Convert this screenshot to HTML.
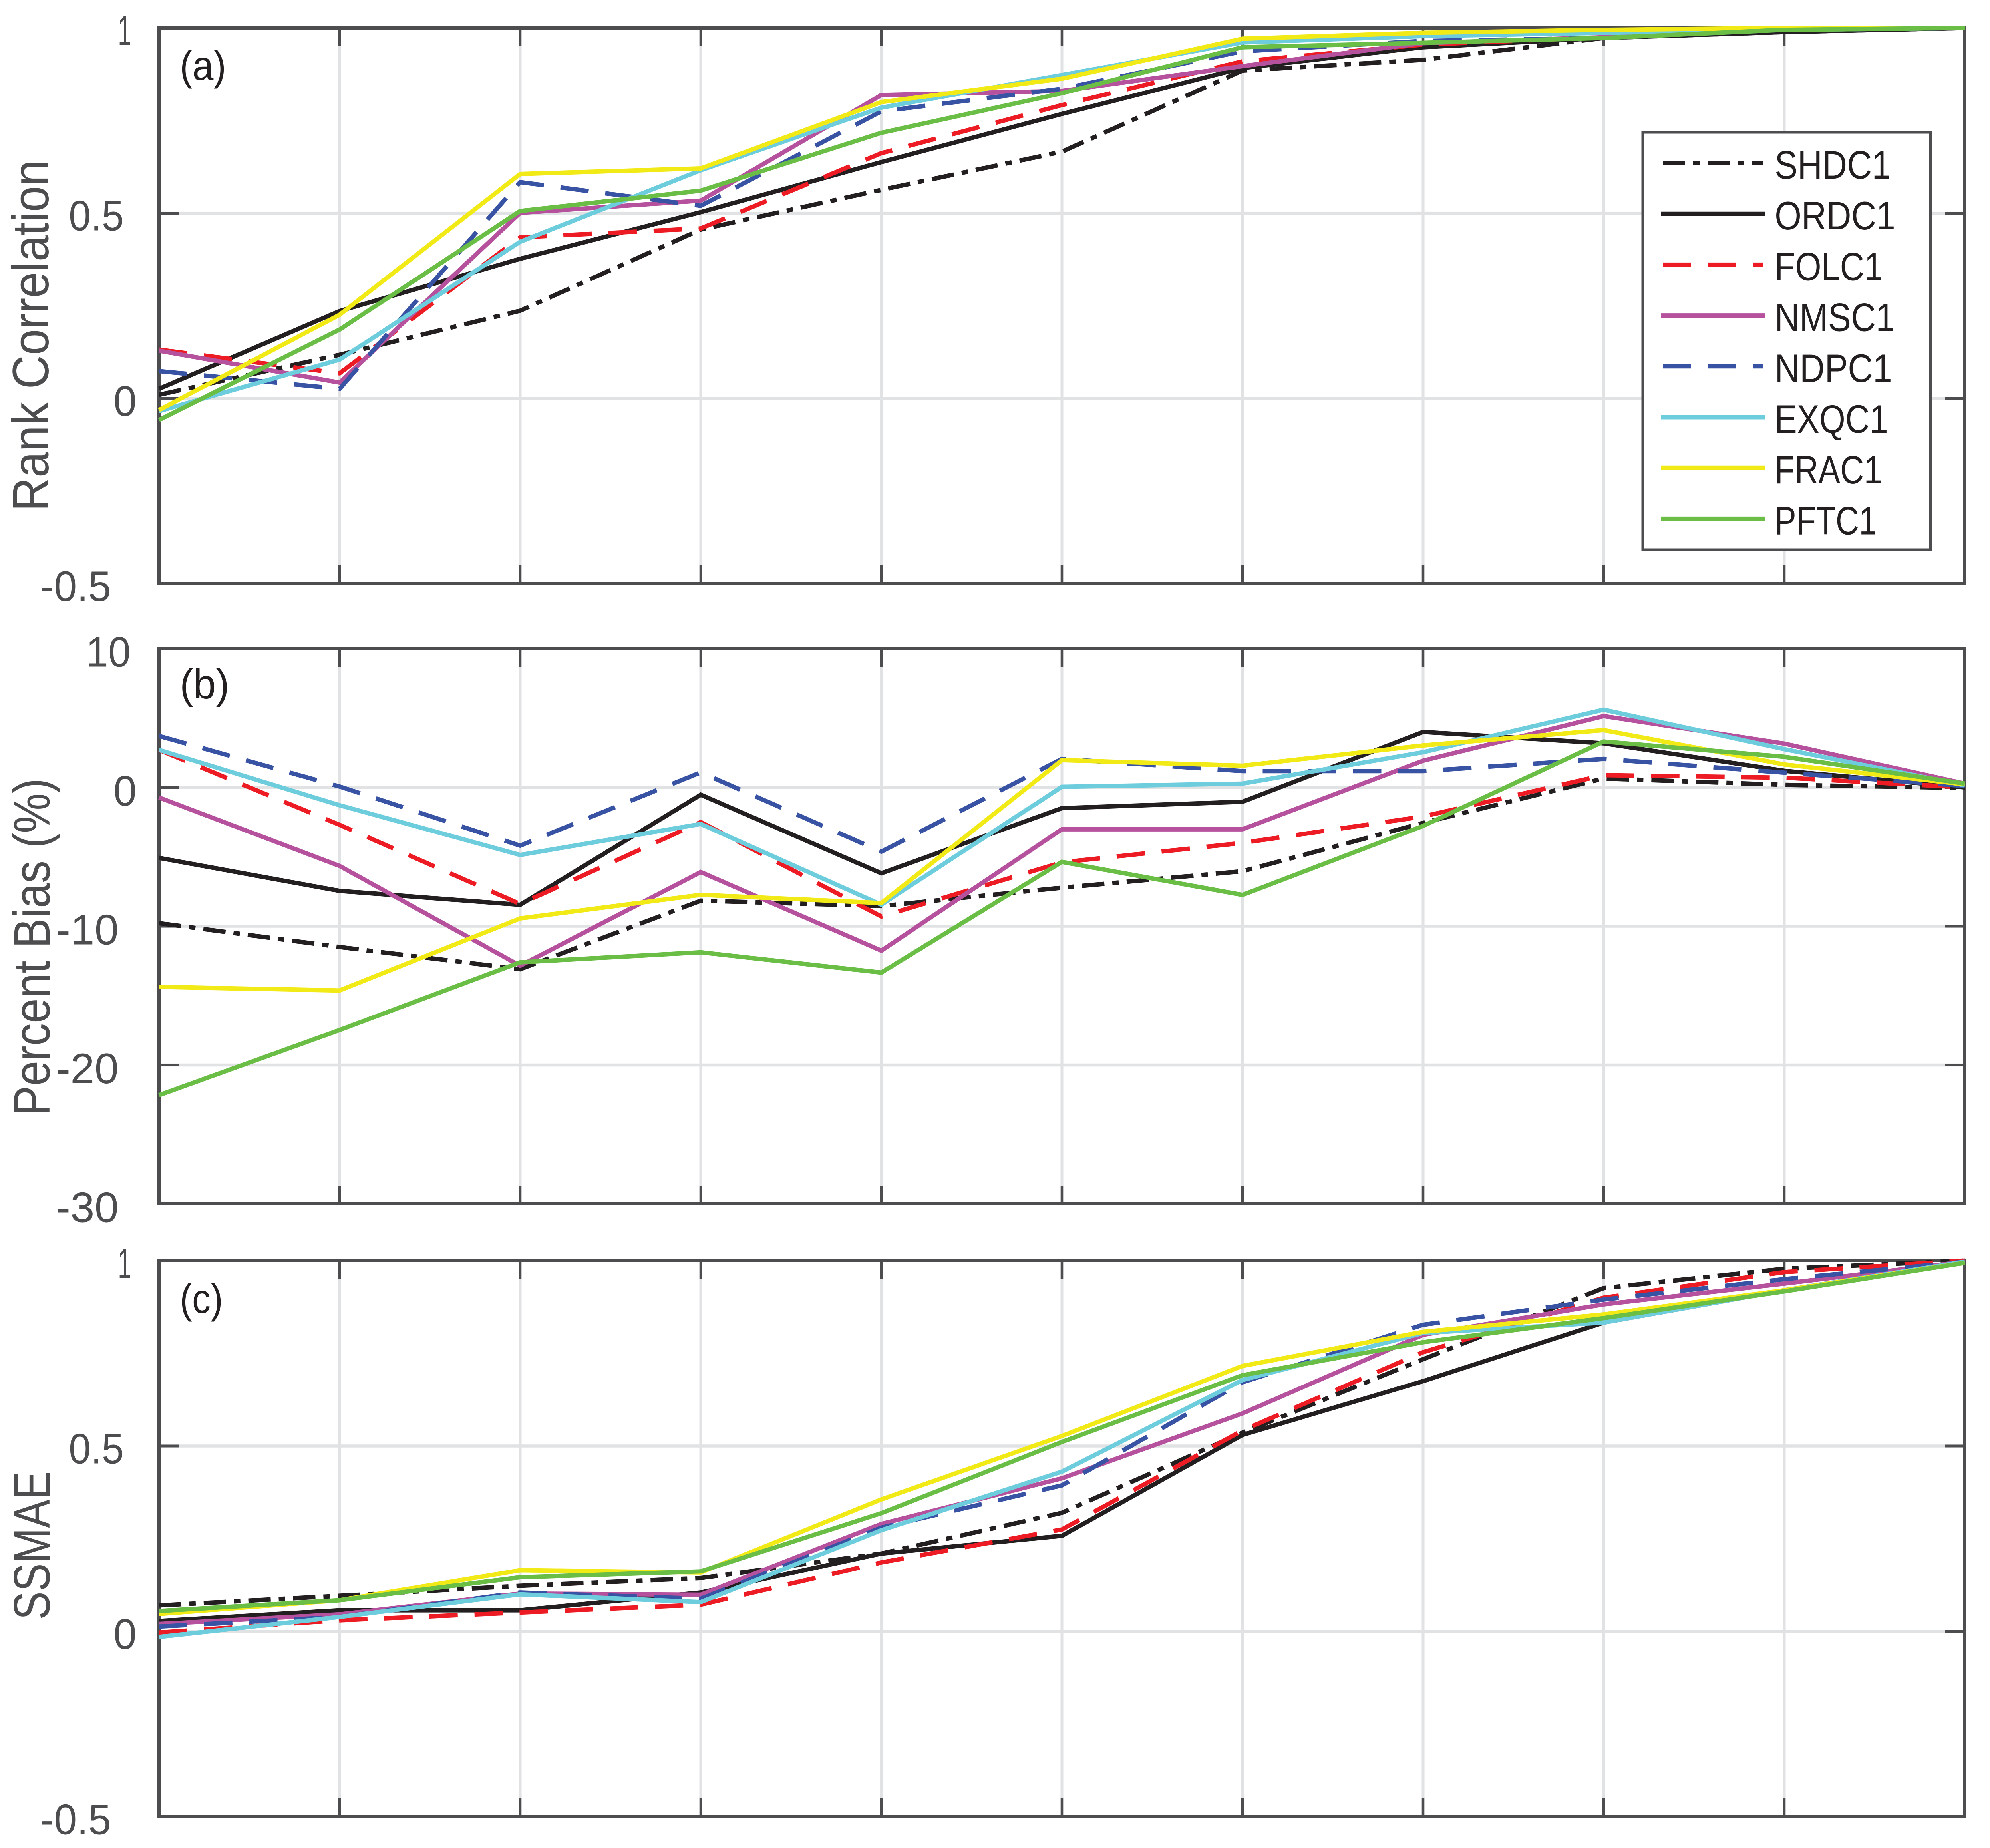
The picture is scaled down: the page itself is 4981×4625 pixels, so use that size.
<!DOCTYPE html>
<html lang="en">
<head>
<meta charset="utf-8">
<title>Rank Correlation, Percent Bias and SSMAE by series</title>
<style>
html,body{margin:0;padding:0;background:#fff;width:4981px;height:4625px;overflow:hidden}
svg{display:block}
text{font-family:"Liberation Sans",sans-serif}
</style>
</head>
<body>
<svg id="chart" xmlns="http://www.w3.org/2000/svg" width="4981" height="4625" viewBox="0 0 4981 4625"></svg>
<script>
// ---- data ----
const seriesNames = ['SHDC1','ORDC1','FOLC1','NMSC1','NDPC1','EXQC1','FRAC1','PFTC1'];
const categories = [0,1,2,3,4,5,6,7,8,9,10];

const rankShd = [0.010,0.118,0.237,0.456,0.563,0.666,0.885,0.914,0.973,0.989,1];
const rankOrd = [0.026,0.236,0.377,0.503,0.638,0.768,0.892,0.948,0.973,0.989,1];
const rankFol = [0.132,0.068,0.435,0.459,0.662,0.792,0.910,0.955,0.975,1.000,1];
const rankNms = [0.129,0.043,0.501,0.534,0.819,0.830,0.897,0.959,0.975,0.995,1];
const rankNdp = [0.074,0.026,0.584,0.520,0.775,0.836,0.937,0.965,0.973,0.995,1];
const rankExq = [-0.034,0.105,0.423,0.616,0.785,0.873,0.961,0.978,0.987,0.995,1];
const rankFra = [-0.031,0.226,0.606,0.621,0.800,0.863,0.971,0.987,0.995,1.000,1];
const rankPft = [-0.058,0.186,0.506,0.561,0.717,0.824,0.948,0.960,0.973,0.995,1];

const biasShd = [-9.78,-11.5,-13.1,-8.16,-8.55,-7.23,-6.04,-2.56,0.64,0.18,-0.04];
const biasOrd = [-5.08,-7.46,-8.46,-0.53,-6.19,-1.5,-1.04,3.99,3.17,1.19,0];
const biasFol = [2.7,-2.7,-8.4,-2.5,-9.3,-5.4,-4.0,-2.1,0.88,0.7,0];
const biasNms = [-0.73,-5.66,-12.85,-6.1,-11.76,-3.02,-3.02,1.92,5.13,3.15,0.27];
const biasNdp = [3.7,0.06,-4.2,1.08,-4.63,2.05,1.17,1.17,2.05,1.06,0.1];
const biasExq = [2.7,-1.29,-4.87,-2.64,-8.45,0.04,0.27,2.53,5.59,2.75,0.15];
const biasFra = [-14.37,-14.63,-9.44,-7.74,-8.33,1.96,1.56,3.02,4.12,1.65,0.22];
const biasPft = [-22.17,-17.48,-12.6,-11.88,-13.34,-5.37,-7.75,-2.78,3.3,2.2,0.27];

const ssmaeShd = [0.070,0.096,0.123,0.144,0.210,0.320,0.536,0.734,0.926,0.978,1.000];
const ssmaeOrd = [0.028,0.057,0.057,0.105,0.210,0.258,0.530,0.675,0.833,0.920,0.997];
const ssmaeFol = [-0.003,0.030,0.051,0.072,0.186,0.275,0.542,0.753,0.900,0.969,1.000];
const ssmaeNms = [0.020,0.046,0.102,0.099,0.290,0.413,0.588,0.800,0.882,0.938,0.997];
const ssmaeNdp = [0.013,0.039,0.105,0.088,0.280,0.394,0.672,0.827,0.895,0.950,0.997];
const ssmaeExq = [-0.015,0.039,0.100,0.079,0.273,0.431,0.678,0.805,0.833,0.920,0.997];
const ssmaeFra = [0.047,0.084,0.165,0.159,0.356,0.527,0.716,0.808,0.855,0.920,0.994];
const ssmaePft = [0.055,0.084,0.146,0.162,0.319,0.511,0.691,0.780,0.845,0.917,0.994];

const rankTicks = [1,0.5,0,-0.5];
const rankTickLabels = ['1','0.5','0','-0.5'];
const biasTicks = [10,0,-10,-20,-30];
const biasTickLabels = ['10','0','-10','-20','-30'];
const ssmaeTicks = [1,0.5,0,-0.5];
const ssmaeTickLabels = ['1','0.5','0','-0.5'];

// ---- drawing ----
const NS = 'http://www.w3.org/2000/svg';
const svg = document.getElementById('chart');
const AXIS = '#4d4d4f', GRID = '#e1e2e4', INK = '#231f20';
const PLOT_L = 398, PLOT_R = 4918;
const colors = {SHDC1:INK,ORDC1:INK,FOLC1:'#ed1c24',NMSC1:'#b5519d',NDPC1:'#3953a4',EXQC1:'#6dcddd',FRAC1:'#f2ea16',PFTC1:'#6abd45'};
const dashes = {SHDC1:'56 20 16 20',FOLC1:'71 42',NDPC1:'71 42'};

function make(tag, attrs, parent){
  const el = document.createElementNS(NS, tag);
  for (const k in attrs) el.setAttribute(k, attrs[k]);
  (parent || svg).appendChild(el);
  return el;
}
function xScale(i){
  return PLOT_L + (PLOT_R - PLOT_L) * (i - categories[0]) / (categories[categories.length-1] - categories[0]);
}
function tickLabelBox(label){
  const right = {'1':329,'0.5':310,'0':342,'-0.5':278,'10':327,'-10':297,'-20':297,'-30':297};
  const width = {'1':34,'0.5':138,'0':58,'-0.5':177,'10':112,'-10':157,'-20':157,'-30':157};
  return {x: right[label] - width[label], w: width[label]};
}

function drawPanel(p){
  const g = make('g', {});
  
  
  const yScale = v => p.top + (p.bottom - p.top) * (p.max - v) / (p.max - p.min);

  // grid
  categories.slice(1, -1).forEach(c => {
    const l = make('line', {x1:xScale(c),x2:xScale(c),y1:p.top,y2:p.bottom,stroke:GRID,'stroke-width':7}, g);
    
    
  });
  p.ticks.forEach(t => {
    if (t === p.max || t === p.min) return;
    const l = make('line', {x1:PLOT_L,x2:PLOT_R,y1:yScale(t),y2:yScale(t),stroke:GRID,'stroke-width':7.5}, g);
    
    
  });

  // ticks
  categories.slice(1, -1).forEach(c => {
    const a = make('line', {x1:xScale(c),x2:xScale(c),y1:p.top,y2:p.top+46,stroke:AXIS,'stroke-width':6.5}, g);
    
    
    const b = make('line', {x1:xScale(c),x2:xScale(c),y1:p.bottom,y2:p.bottom-46,stroke:AXIS,'stroke-width':6.5}, g);
    
    
  });
  p.ticks.forEach(t => {
    if (t === p.max || t === p.min) return;
    const a = make('line', {x1:PLOT_L,x2:PLOT_L+50,y1:yScale(t),y2:yScale(t),stroke:AXIS,'stroke-width':7}, g);
    
    
    const b = make('line', {x1:PLOT_R,x2:PLOT_R-50,y1:yScale(t),y2:yScale(t),stroke:AXIS,'stroke-width':7}, g);
    
    
  });

  // frame
  const frame = make('rect', {x:PLOT_L,y:p.top,width:PLOT_R-PLOT_L,height:p.bottom-p.top,fill:'none',stroke:AXIS,'stroke-width':8}, g);
  
  

  // tick labels
  p.ticks.forEach((t, i) => {
    const label = p.tickLabels[i];
    const box = tickLabelBox(label);
    const tx = make('text', {x:box.x,y:yScale(t)+p.labelDrop,'font-size':107,fill:AXIS,textLength:box.w,lengthAdjust:'spacingAndGlyphs'}, g);
    tx.textContent = label;
    
    
  });

  // y title
  const yt = make('text', {transform:'translate('+p.titleX+' '+p.titleY+') rotate(-90)','text-anchor':'middle','font-size':128,fill:AXIS,textLength:p.titleLen,lengthAdjust:'spacingAndGlyphs'}, g);
  yt.textContent = p.title;
  
  

  // panel letter
  const pl = make('text', {x:450,y:p.letterY,'font-size':104,fill:INK,textLength:p.letterLen,lengthAdjust:'spacingAndGlyphs'}, g);
  pl.textContent = p.letter;
  
  

  // series
  seriesNames.forEach((name, s) => {
    const pts = p.series[s].map((v, i) => xScale(categories[i]).toFixed(1) + ',' + yScale(v).toFixed(1)).join(' ');
    const attrs = {points:pts,fill:'none',stroke:colors[name],'stroke-width':11,'stroke-linejoin':'miter','stroke-miterlimit':10};
    if (dashes[name]) attrs['stroke-dasharray'] = dashes[name];
    const line = make('polyline', attrs, g);
    
    
  });
}

drawPanel({key:'a',letter:'(a)',letterY:200,letterLen:116,top:70,bottom:1461,max:1,min:-0.5,labelDrop:43,
  ticks:rankTicks,tickLabels:rankTickLabels,title:'Rank Correlation',titleX:121,titleY:840,titleLen:880,
  series:[rankShd,rankOrd,rankFol,rankNms,rankNdp,rankExq,rankFra,rankPft]});
drawPanel({key:'b',letter:'(b)',letterY:1748,letterLen:124,top:1623,bottom:3013,max:10,min:-30,labelDrop:45.5,
  ticks:biasTicks,tickLabels:biasTickLabels,title:'Percent Bias (%)',titleX:124,titleY:2370,titleLen:845,
  series:[biasShd,biasOrd,biasFol,biasNms,biasNdp,biasExq,biasFra,biasPft]});
drawPanel({key:'c',letter:'(c)',letterY:3286,letterLen:108,top:3155,bottom:4547,max:1,min:-0.5,labelDrop:43.5,
  ticks:ssmaeTicks,tickLabels:ssmaeTickLabels,title:'SSMAE',titleX:124,titleY:3868,titleLen:372,
  series:[ssmaeShd,ssmaeOrd,ssmaeFol,ssmaeNms,ssmaeNdp,ssmaeExq,ssmaeFra,ssmaePft]});

// legend
function legendTextWidth(name){
  return {SHDC1:291,ORDC1:302,FOLC1:271,NMSC1:301,NDPC1:294,EXQC1:284,FRAC1:269,PFTC1:256}[name];
}
const legend = make('g', {});


const legendBox = make('rect', {x:4112,y:331,width:720,height:1045,fill:'#fff',stroke:AXIS,'stroke-width':7}, legend);


seriesNames.forEach((name, i) => {
  const y = 408 + i * 127.2;
  const attrs = dashes[name]
    ? {x1:4162,x2:4413,y1:y,y2:y,stroke:colors[name],'stroke-width':11,'stroke-dasharray':dashes[name]}
    : {x1:4157,x2:4418,y1:y,y2:y,stroke:colors[name],'stroke-width':11};
  const sw = make('line', attrs, legend);
  
  
  const tx = make('text', {x:4442,y:y+39,'font-size':99,fill:INK,textLength:legendTextWidth(name),lengthAdjust:'spacingAndGlyphs'}, legend);
  tx.textContent = name;
  
  
});
</script>
</body>
</html>
